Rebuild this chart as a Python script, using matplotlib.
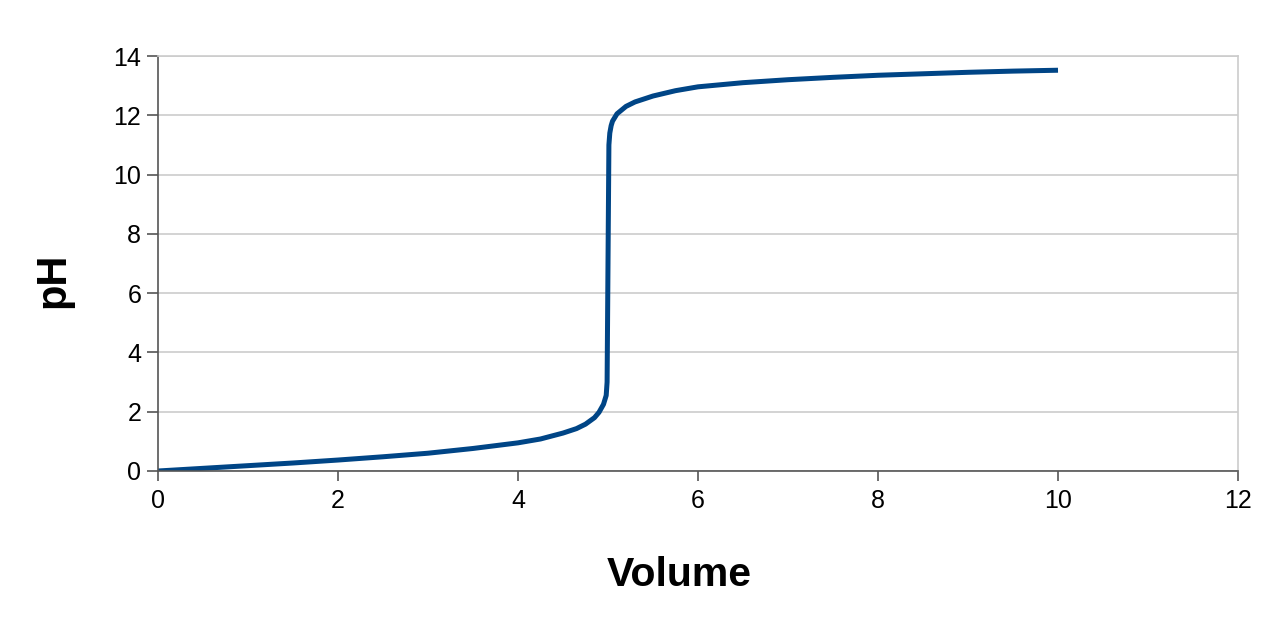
import numpy as np
import matplotlib
matplotlib.use("Agg")
import matplotlib.pyplot as plt

# 滴定曲线数据
volume = [0, 0.5, 1, 1.5, 2, 2.5, 3, 3.5, 4, 4.25, 4.5, 4.65, 4.75, 4.85, 4.9, 4.95, 4.98,
          4.99, 5.0, 5.01, 5.02, 5.035, 5.05, 5.1, 5.2, 5.3, 5.5, 5.75, 6, 6.5, 7, 7.5, 8, 8.5, 9, 9.5, 10]
ph = [0.0, 0.09, 0.18, 0.27, 0.37, 0.48, 0.6, 0.76, 0.95, 1.08, 1.28, 1.43, 1.58, 1.8, 1.98, 2.25, 2.55,
      3.0, 7.0, 11.0, 11.4, 11.65, 11.8, 12.05, 12.3, 12.45, 12.65, 12.83, 12.96, 13.1, 13.2, 13.28, 13.35, 13.4, 13.45, 13.49, 13.52]

x_ticks = [0, 2, 4, 6, 8, 10, 12]
y_ticks = [0, 2, 4, 6, 8, 10, 12, 14]

plt.rcParams["font.family"] = ["Liberation Sans", "DejaVu Sans"]

fig = plt.figure(figsize=(12.84, 6.18), dpi=100)
ax = fig.add_axes([158 / 1284, 1 - 471 / 618, 1080 / 1284, 415 / 618])

ax.plot(volume, ph, color="#004586", lw=3.6, solid_capstyle="butt", solid_joinstyle="round")

ax.set_xlim(0, 12)
ax.set_ylim(0, 14)
ax.set_xticks(x_ticks)
ax.set_yticks(y_ticks)
ax.tick_params(axis="both", labelsize=18, color="#555555", width=1.2)
ax.tick_params(axis="x", length=7, pad=6)
ax.tick_params(axis="y", length=8, pad=4)

ax.grid(axis="y", color="#cccccc", lw=1.2)
ax.set_axisbelow(True)
for s in ["top", "right"]:
    ax.spines[s].set_color("#cccccc")
    ax.spines[s].set_linewidth(1.2)
for s in ["left", "bottom"]:
    ax.spines[s].set_color("#555555")
    ax.spines[s].set_linewidth(1.2)

ax.set_xlabel("Volume", fontsize=29.5, fontweight="bold")
ax.xaxis.label.set_va("center")
ax.xaxis.set_label_coords(0.483, -0.25)
ax.set_ylabel("pH", fontsize=30, fontweight="bold")
ax.yaxis.label.set_va("center")
ax.yaxis.label.set_rotation_mode("default")
ax.yaxis.set_label_coords(-0.0972, 0.46)

fig.savefig("out.png", dpi=100)
